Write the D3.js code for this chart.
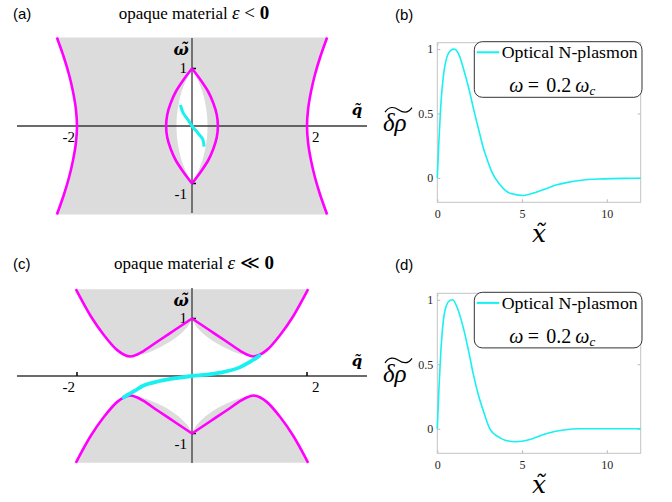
<!DOCTYPE html>
<html lang="en">
  <head>
    <meta charset="UTF-8" />
    <title>Optical N-plasmon</title>
    <script src="https://d3js.org/d3.v7.min.js"></script>
    <style>
      body {
        margin: 0;
        background: #fff;
      }
      text {
        font-family: "Liberation Serif", "Times New Roman", serif;
      }
      .panel-tag {
        font-family: "Liberation Sans", Arial, sans-serif;
        font-size: 15px;
      }
      .math {
        font-family: "DejaVu Serif", serif;
      }
    </style>
  </head>
  <body>
    <script>
      // ---- panel (a): opaque material eps < 0 ----
      const aHypW = [-1.54, -1.2, -0.9, -0.6, -0.3, 0, 0.3, 0.6, 0.9, 1.2, 1.54];
      const aHypRightQ = [2.35, 2.23, 2.14, 2.07, 2.02, 2.0, 2.02, 2.07, 2.14, 2.23, 2.35];
      const aHypLeftQ = [-2.35, -2.23, -2.14, -2.07, -2.02, -2.0, -2.02, -2.07, -2.14, -2.23, -2.35];
      const aLensW = [-1, -0.8, -0.6, -0.4, -0.2, 0, 0.2, 0.4, 0.6, 0.8, 1];
      const aLensRightQ = [0, 0.15, 0.28, 0.37, 0.43, 0.45, 0.43, 0.37, 0.28, 0.15, 0];
      const aLensLeftQ = [0, -0.15, -0.28, -0.37, -0.43, -0.45, -0.43, -0.37, -0.28, -0.15, 0];
      const aInnerRightQ = [0, 0.1, 0.18, 0.23, 0.26, 0.27, 0.26, 0.23, 0.18, 0.1, 0];
      const aInnerLeftQ = [0, -0.1, -0.18, -0.23, -0.26, -0.27, -0.26, -0.23, -0.18, -0.1, 0];
      const aCyanW = [-0.36, -0.24, -0.13, 0, 0.1, 0.22, 0.365];
      const aCyanQ = [0.21, 0.19, 0.11, 0, -0.064, -0.15, -0.2];

      // ---- panel (c): opaque material eps << 0 ----
      const cBandQ = [-2.02, -1.76, -1.53, -1.3, -1.18, -1.07, -0.95, -0.85, -0.6, -0.3, 0,
                      0.3, 0.6, 0.85, 0.95, 1.07, 1.18, 1.3, 1.53, 1.76, 2.02];
      const cUpperW = [1.51, 1.04, 0.71, 0.45, 0.37, 0.34, 0.375, 0.43, 0.6, 0.8, 1.0,
                       0.8, 0.6, 0.43, 0.375, 0.34, 0.37, 0.45, 0.71, 1.04, 1.51];
      const cLowerW = [-1.51, -1.04, -0.71, -0.45, -0.37, -0.34, -0.375, -0.43, -0.6, -0.8, -1.0,
                       -0.8, -0.6, -0.43, -0.375, -0.34, -0.37, -0.45, -0.71, -1.04, -1.51];
      const cSliverRightQ = [0, 0.05, 0.15, 0.32, 0.6, 0.89, 1.07];
      const cSliverLeftQ = [0, -0.05, -0.15, -0.32, -0.6, -0.89, -1.07];
      const cSliverUpW = [1.0, 0.9, 0.78, 0.64, 0.48, 0.37, 0.34];
      const cSliverDownW = [-1.0, -0.9, -0.78, -0.64, -0.48, -0.37, -0.34];
      const cCyanQ = [-1.19, -1.0, -0.85, -0.56, -0.27, 0, 0.26, 0.49, 0.83, 1.0, 1.17];
      const cCyanW = [-0.37, -0.26, -0.17, -0.087, -0.035, 0, 0.023, 0.058, 0.15, 0.24, 0.35];

      const phaseQTicks = [-2, 2];
      const phaseWTicks = [1, -1];

      // ---- panels (b) and (d): density profile ----
      const bX = [0, 0.1, 0.2, 0.35, 0.55, 0.8, 1.0, 1.3, 1.54, 1.85, 2.13, 2.45, 2.72, 3.0, 3.2,
                  3.7, 4.29, 5.08, 5.87, 6.5, 7.05, 7.7, 8.4, 9.8, 11, 12];
      const bRho = [0, 0.3, 0.55, 0.78, 0.93, 0.99, 1.0, 0.95, 0.85, 0.7, 0.54, 0.37, 0.23, 0.12, 0.05,
                    -0.054, -0.12, -0.137, -0.11, -0.08, -0.054, -0.035, -0.02, -0.008, -0.004, -0.003];
      const dX = [0, 0.1, 0.2, 0.35, 0.55, 0.75, 0.9, 1.2, 1.54, 1.85, 2.13, 2.45, 2.72, 3.1, 3.7,
                  4.2, 4.6, 5.47, 6.46, 7.44, 8.4, 10, 12];
      const dRho = [0, 0.32, 0.58, 0.83, 0.96, 0.995, 1.0, 0.93, 0.78, 0.6, 0.42, 0.25, 0.137, 0.0, -0.07,
                    -0.095, -0.1, -0.083, -0.036, -0.01, 0.0, 0.0, 0.0];
      const profXTicks = [0, 5, 10];
      const profYTicks = [0, 0.5, 1];

      const MAGENTA = "#ff00ff";
      const CYAN = "#19f0f0";
      const GRAY = "#dcdcdc";

      const svg = d3
        .select("body")
        .append("svg")
        .attr("width", 672)
        .attr("height", 502);

      const zip = (a, b) => a.map((v, i) => [v, b[i]]);

      function joinPaths(segs) {
        return segs.map((s, i) => (i ? s.replace(/^M/, "L") : s)).join("") + "Z";
      }

      function title(y, tag, rel) {
        svg.append("text").attr("class", "panel-tag").attr("x", 13).attr("y", y).text(tag);
        const t = svg
          .append("text")
          .attr("x", 194)
          .attr("y", y)
          .attr("text-anchor", "middle")
          .attr("font-size", 17);
        t.append("tspan").text("opaque material ");
        t.append("tspan").attr("font-style", "italic").attr("font-size", 19).text("\u03B5");
        t.append("tspan").attr("font-size", 19).text(" " + rel + " ");
        t.append("tspan").attr("font-weight", "bold").attr("font-size", 19).text("0");
      }

      function phaseAxes(g, x, y, yTop, yBot, qLabelY, wLabelY) {
        g.append("line")
          .attr("x1", 17).attr("x2", 367)
          .attr("y1", y(0)).attr("y2", y(0))
          .attr("stroke", "#3a3a3a").attr("stroke-width", 1.3);
        g.append("line")
          .attr("x1", x(0)).attr("x2", x(0))
          .attr("y1", yTop).attr("y2", yBot)
          .attr("stroke", "#3a3a3a").attr("stroke-width", 1.3);

        phaseQTicks.forEach((t) => {
          g.append("line")
            .attr("x1", x(t)).attr("x2", x(t))
            .attr("y1", y(0) - 4).attr("y2", y(0))
            .attr("stroke", "#000").attr("stroke-width", 1.5);
          g.append("text")
            .attr("x", t < 0 ? x(t) - 2 : x(t) + 5)
            .attr("y", y(0) + 16)
            .attr("text-anchor", t < 0 ? "end" : "start")
            .attr("font-size", 15)
            .text(t);
        });
        phaseWTicks.forEach((t) => {
          g.append("line")
            .attr("x1", x(0)).attr("x2", x(0) + 4)
            .attr("y1", y(t)).attr("y2", y(t))
            .attr("stroke", "#000").attr("stroke-width", 1.5);
          g.append("text")
            .attr("x", x(0) - 5)
            .attr("y", t > 0 ? y(t) + 4 : y(t) + 15)
            .attr("text-anchor", "end")
            .attr("font-size", 15)
            .text(t);
        });

        g.append("text")
          .attr("class", "math")
          .attr("x", 357).attr("y", qLabelY)
          .attr("text-anchor", "middle")
          .attr("font-size", 15).attr("font-style", "italic").attr("font-weight", "bold")
          .text("q\u0303");
        g.append("text")
          .attr("class", "math")
          .attr("x", 181).attr("y", wLabelY)
          .attr("text-anchor", "middle")
          .attr("font-size", 16).attr("font-style", "italic").attr("font-weight", "bold")
          .text("\u03C9\u0303");
      }

      // ---------- panel (a) ----------
      {
        const x = d3.scaleLinear().domain([-2, 2]).range([77, 307]);
        const y = d3.scaleLinear().domain([-1, 1]).range([183.5, 68.5]);
        const smoothY = d3.line().x((d) => x(d[0])).y((d) => y(d[1])).curve(d3.curveMonotoneY);
        const g = svg.append("g");

        const leftHyp = zip(aHypLeftQ, aHypW);
        const rightHyp = zip(aHypRightQ, aHypW);
        g.append("path")
          .attr("d", joinPaths([smoothY(leftHyp), smoothY(rightHyp.slice().reverse())]))
          .attr("fill", GRAY);

        const innerR = zip(aInnerRightQ, aLensW);
        const innerL = zip(aInnerLeftQ, aLensW);
        g.append("path")
          .attr("d", joinPaths([smoothY(innerR), smoothY(innerL.slice().reverse())]))
          .attr("fill", "#fff");

        phaseAxes(g, x, y, 38, 213, 115, 55);

        [leftHyp, rightHyp, zip(aLensRightQ, aLensW), zip(aLensLeftQ, aLensW)].forEach((p) =>
          g.append("path")
            .attr("d", smoothY(p))
            .attr("fill", "none")
            .attr("stroke", MAGENTA)
            .attr("stroke-width", 2.6)
        );
        g.append("path")
          .attr("d", smoothY(zip(aCyanQ, aCyanW)))
          .attr("fill", "none")
          .attr("stroke", CYAN)
          .attr("stroke-width", 3);

        title(19, "(a)", "<");
      }

      // ---------- panel (c) ----------
      {
        const x = d3.scaleLinear().domain([-2, 2]).range([77, 307]);
        const y = d3.scaleLinear().domain([-1, 1]).range([433.5, 318.5]);
        const smooth = d3.line().x((d) => x(d[0])).y((d) => y(d[1])).curve(d3.curveMonotoneX);
        const g = svg.append("g");

        const upper = zip(cBandQ, cUpperW);
        const lower = zip(cBandQ, cLowerW);
        const upL = upper.slice(0, 11), upR = upper.slice(10);
        const loL = lower.slice(0, 11), loR = lower.slice(10);

        g.append("path")
          .attr("d", joinPaths([smooth(upL), smooth(upR)]))
          .attr("fill", GRAY);
        g.append("path")
          .attr("d", joinPaths([smooth(loL), smooth(loR)]))
          .attr("fill", GRAY);

        [
          [cSliverRightQ, cSliverUpW, upR.slice(0, 6)],
          [cSliverLeftQ, cSliverUpW, upL.slice(5).reverse()],
          [cSliverRightQ, cSliverDownW, loR.slice(0, 6)],
          [cSliverLeftQ, cSliverDownW, loL.slice(5).reverse()],
        ].forEach(([qs, ws, edge]) => {
          g.append("path")
            .attr("d", joinPaths([smooth(zip(qs, ws)), smooth(edge.slice().reverse())]))
            .attr("fill", GRAY);
        });

        phaseAxes(g, x, y, 288, 463, 366, 306);

        [upL, upR, loL, loR].forEach((p) =>
          g.append("path")
            .attr("d", smooth(p))
            .attr("fill", "none")
            .attr("stroke", MAGENTA)
            .attr("stroke-width", 2.6)
        );
        g.append("path")
          .attr("d", smooth(zip(cCyanQ, cCyanW)))
          .attr("fill", "none")
          .attr("stroke", CYAN)
          .attr("stroke-width", 3.8)
          .attr("stroke-linecap", "round");

        title(269, "(c)", "\u226A");
      }

      // ---------- panels (b) and (d) ----------
      function profile(top, bottom, tag, xs, ys) {
        const x = d3.scaleLinear().domain([0, 12]).range([437.3, 640.7]);
        const y = d3.scaleLinear().domain([-0.19, 1.05]).range([bottom, top]);
        const g = svg.append("g");

        svg.append("text").attr("class", "panel-tag").attr("x", 395).attr("y", top - 23).text(tag);

        const ax = (axis, tx, ty, fmt) => {
          const a = g.append("g").attr("transform", `translate(${tx},${ty})`).call(axis);
          a.select(".domain").remove();
          a.selectAll(".tick line").attr("stroke", "#b8b8b8");
          a.selectAll("text")
            .attr("fill", "#262626")
            .attr("font-size", 12)
            .attr("font-family", "Liberation Serif, serif");
          if (!fmt) a.selectAll("text").remove();
        };
        ax(d3.axisBottom(x).tickValues(profXTicks).tickSize(-3).tickPadding(7), 0, bottom, true);
        ax(d3.axisTop(x).tickValues(profXTicks).tickSize(-3), 0, top, false);
        ax(d3.axisLeft(y).tickValues(profYTicks).tickSize(-3).tickPadding(4).tickFormat(d3.format("")), 437.3, 0, true);
        ax(d3.axisRight(y).tickValues(profYTicks).tickSize(-3), 640.7, 0, false);

        g.append("rect")
          .attr("x", 437.3)
          .attr("y", top)
          .attr("width", 640.7 - 437.3)
          .attr("height", bottom - top)
          .attr("fill", "none")
          .attr("stroke", "#c4c4c4");

        const line = d3.line().x((d) => x(d[0])).y((d) => y(d[1])).curve(d3.curveMonotoneX);
        g.append("path")
          .attr("d", line(zip(xs, ys)))
          .attr("fill", "none")
          .attr("stroke", CYAN)
          .attr("stroke-width", 1.6);

        // legend
        const lg = g.append("g").attr("transform", `translate(474.3,${top - 1})`);
        lg.append("rect")
          .attr("width", 167.7)
          .attr("height", 55.6)
          .attr("rx", 8)
          .attr("fill", "#fff")
          .attr("stroke", "#333")
          .attr("stroke-width", 1);
        lg.append("line")
          .attr("x1", 2.4).attr("x2", 25)
          .attr("y1", 10.6).attr("y2", 10.6)
          .attr("stroke", CYAN)
          .attr("stroke-width", 2);
        lg.append("text")
          .attr("x", 27.4)
          .attr("y", 16.5)
          .attr("font-size", 16.5)
          .attr("textLength", 136)
          .attr("lengthAdjust", "spacingAndGlyphs")
          .text("Optical N-plasmon");
        const m = lg.append("text").attr("y", 50.5).attr("font-size", 20);
        m.append("tspan").attr("x", 35).attr("font-style", "italic").text("\u03C9");
        m.append("tspan").attr("x", 53.5).text("=");
        m.append("tspan").attr("x", 72).text("0.2");
        m.append("tspan").attr("x", 101).attr("font-style", "italic").text("\u03C9");
        m.append("tspan").attr("font-style", "italic").attr("font-size", 13).attr("dy", 3).text("c");

        // axis titles
        svg.append("text")
          .attr("x", 383)
          .attr("y", top + 88.5)
          .attr("font-size", 25)
          .attr("font-style", "italic")
          .text("\u03B4\u03C1");
        svg.append("path")
          .attr("transform", `translate(385,${top + 64})`)
          .attr("d", "M0,5.5 C4,-0.5 9,0 13.5,3 S23,7 27,1")
          .attr("fill", "none")
          .attr("stroke", "#000")
          .attr("stroke-width", 1.2);
        svg.append("text")
          .attr("class", "math")
          .attr("x", 539)
          .attr("y", bottom + 40)
          .attr("text-anchor", "middle")
          .attr("font-size", 25)
          .attr("font-style", "italic")
          .text("x\u0303");
      }

      profile(42.7, 202.3, "(b)", bX, bRho);
      profile(293.3, 453.3, "(d)", dX, dRho);
    </script>
  </body>
</html>
